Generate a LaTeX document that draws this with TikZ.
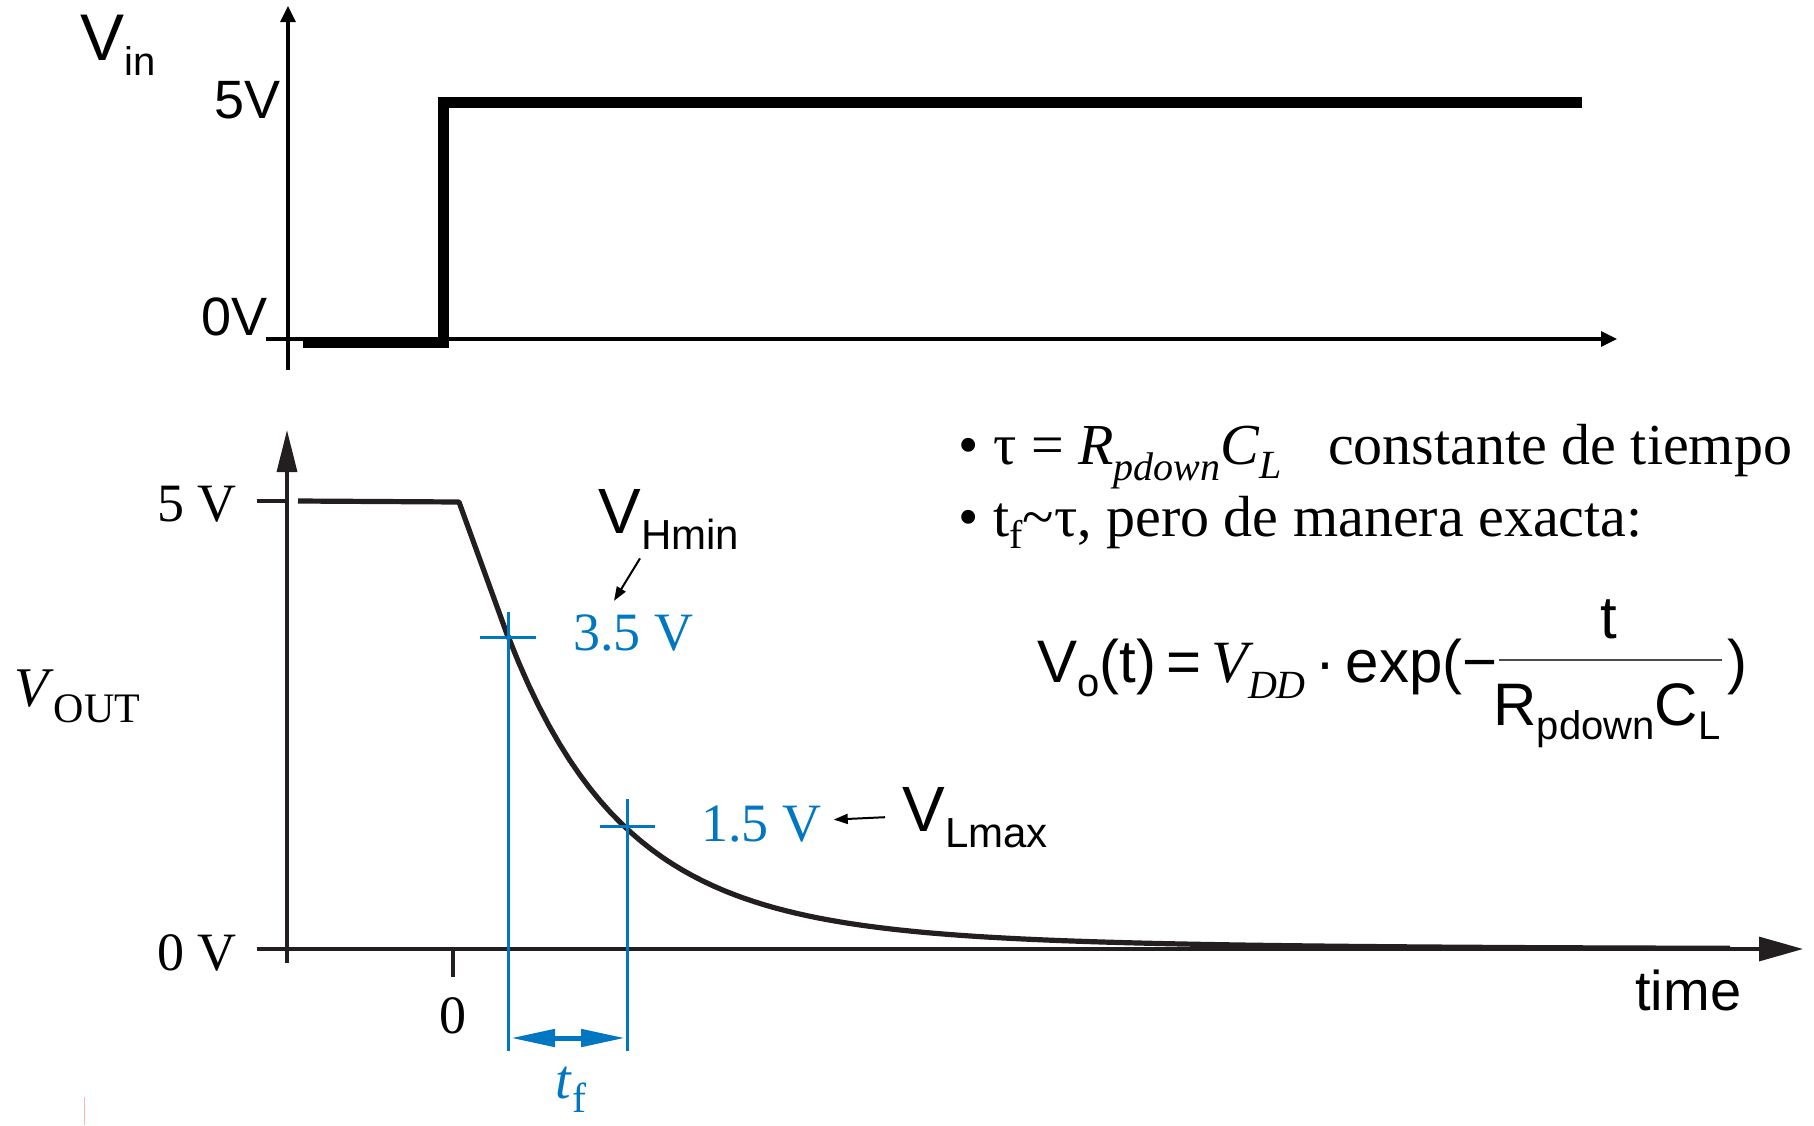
\documentclass[tikz,border=0pt]{standalone}
\usepackage{fontspec}
\setmainfont{Liberation Serif}
\setsansfont{Liberation Sans}
\usetikzlibrary{arrows.meta,calc}
\definecolor{tblue}{RGB}{0,119,192}
\definecolor{ink}{RGB}{35,31,32}
\newcommand{\fsz}[1]{\fontsize{#1}{#1}\selectfont}
\newcommand{\lo}[3]{\raisebox{-#1pt}{\fsz{#2}#3}}

\begin{document}
\begin{tikzpicture}[x=0.5pt,y=-0.5pt,>=Stealth]
\tikzstyle{ax}=[line width=1.6pt,ink]
\tikzstyle{bl}=[line width=1.5pt,tblue]
\tikzstyle{rm}=[inner sep=0,font=\rmfamily\fsz{27}]
\tikzstyle{sf}=[inner sep=0,font=\sffamily\fsz{28}]
\tikzstyle{callout}=[line width=1pt,-{Triangle[length=7pt,width=5pt]}]
\useasboundingbox (0,0) rectangle (1814,1125);
% input step
\draw[line width=1.6pt,-{Triangle[length=8pt,width=7.5pt]}] (288,370) -- (288,6);
\draw[line width=1.6pt,-{Triangle[length=8pt,width=7.5pt]}] (266,339) -- (1617,339);
\draw[line width=5.5pt] (303,342) -- (443,342) -- (443,102) -- (1582,102);
\node[sf,anchor=base west] (vin) at (80,60) {\fsz{33}V\lo{7.5}{20}{in}};
\node[sf,anchor=base east] (v5) at (281,118) {\fsz{27}5V};
\node[sf,anchor=base east] (v0) at (268,335) {\fsz{27}0V};
% output response
\draw[ax,-{Triangle[length=21pt,width=10pt]}] (287,963) -- (287,430);
\draw[ax,-{Triangle[length=22pt,width=12pt]}] (257,949) -- (1803,949);
\draw[ax] (257,501) -- (287,501);
\draw[ax] (453,949) -- (453,977);
\draw[line width=2.6pt,ink,line join=round] (298,501) -- (459,502) -- (508,637) -- plot[domain=508:1730,samples=120] (\x,{949-271.1*exp(-(\x-508)/110)-41.9*exp(-(\x-508)/300)});
\node[rm,anchor=base east] (l5) at (237,521) {5 V};
\node[rm,anchor=base east] (l0) at (237,970) {0 V};
\node[rm,anchor=base] (t0) at (453,1033) {0};
\node[rm,anchor=base west] (vout) at (14,706) {\fsz{28}\textit{V}\lo{8}{21}{OUT}};
\node[sf,anchor=base west] (time) at (1635,1010) {time};
% 3.5 V / 1.5 V marks
\draw[bl] (480,637) -- (536,637) (508,612) -- (508,1051);
\draw[bl] (600,826) -- (655,826) (627,799) -- (627,1051);
\draw[tblue,line width=2.5pt,{Triangle[length=22pt,width=8.5pt]}-{Triangle[length=22pt,width=8.5pt]}] (511,1038) -- (625,1038);
\node[rm,tblue,anchor=base west] (v35) at (573,650) {3.5 V};
\node[rm,tblue,anchor=base west] (v15) at (701,841) {1.5 V};
\node[rm,tblue,anchor=base west] (tf) at (555,1098) {\fsz{28}\textit{t}\lo{7}{21}{f}};
\node[sf,anchor=base west] (vh) at (598,533) {\fsz{32}V\lo{8}{21}{Hmin}};
\node[sf,anchor=base west] (vl) at (902,831) {\fsz{32}V\lo{8}{21}{Lmax}};
\draw[callout] ($(vh.south west)+(42,9)$) -- ($(v35.north west)+(41,-13)$);
\draw[callout] ($(vl.west)+(-17,0)$) -- ($(v15.east)+(12,-4)$);
% notes
\node[rm,anchor=base west] (b1) at (958,464) {\fsz{29}\textbullet\ τ = \textit{R}\lo{8}{20}{\textit{pdown}}\textit{C}\lo{7}{20}{\textit{L}}\hspace{0.8em}constante de tiempo};
\node[rm,anchor=base west] (b2) at (958,536) {\fsz{29}\textbullet\ t\lo{6}{20}{f}\textasciitilde τ, pero de manera exacta:};
\node[sf,anchor=base west] (eq) at (1037,682) {\fsz{30}V\lo{7}{20}{o}(t)\,=\,{\rmfamily\itshape V\lo{8}{20}{DD}}\,\textperiodcentered\,exp(−};
\node[sf,anchor=base] (num) at (1609,638) {\fsz{30}t};
\node[sf,anchor=base] (den) at (1607,725) {\fsz{30}R\lo{7}{20}{pdown}C\lo{7}{20}{L}};
\draw[line width=0.6pt,black!70] (1499,660) -- (1722,660);
\node[sf,anchor=base west] (cp) at (1727,682) {\fsz{30})};
\draw[red!30,line width=0.5pt] (84,1097) -- (84,1125);
\end{tikzpicture}
\end{document}
